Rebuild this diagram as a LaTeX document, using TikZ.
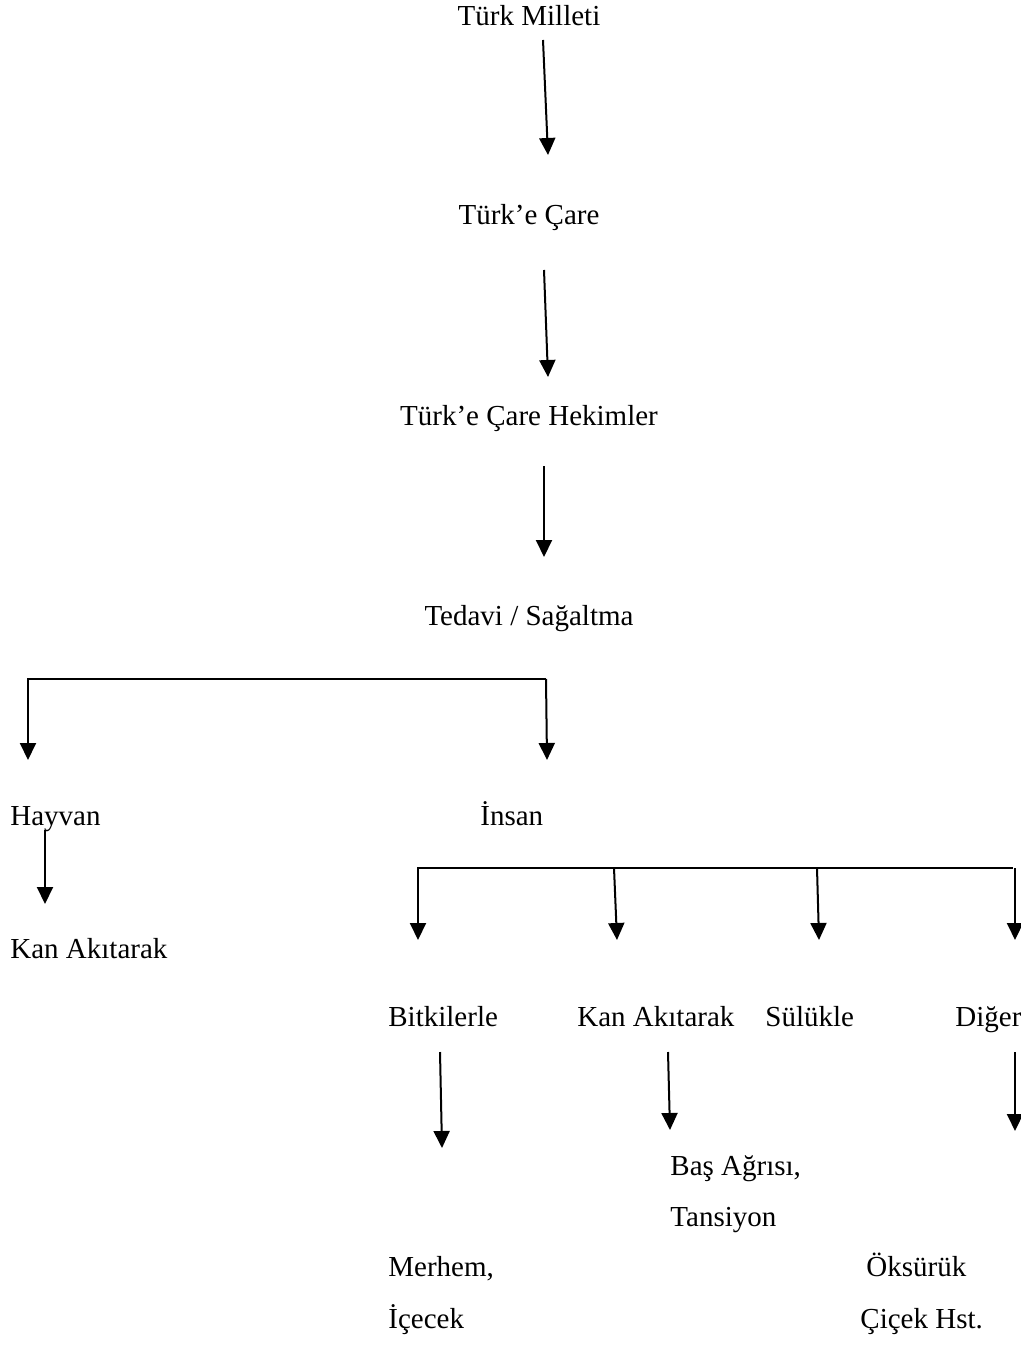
\documentclass[tikz,border=0pt]{standalone}
\usepackage{fontspec}
\setmainfont{Liberation Serif}
\usepackage{tikz}
\usetikzlibrary{positioning,arrows.meta}

\begin{document}
\begin{tikzpicture}[x=0.5pt, y=-0.5pt, font=\fontsize{14.5}{17}\selectfont]
    \tikzstyle{ctr}=[inner sep=0pt, anchor=base]
    \tikzstyle{lbl}=[inner sep=0pt, anchor=base west]
    \tikzstyle{line}=[draw, line width=1pt]
    \tikzstyle{arrow}=[line, -{Triangle[width=8pt, length=8.5pt]}]

    \useasboundingbox (0,0) rectangle (1021,1353);

    \node[ctr] (tm)  at (529,26)  {Türk Milleti};
    \node[ctr] (tc)  at (529,225) {Türk’e Çare};
    \node[ctr] (tch) at (529,425) {Türk’e Çare Hekimler};
    \node[ctr] (ted) at (529,625) {Tedavi / Sağaltma};

    \node[lbl] (hay)  at (10,825)  {Hayvan};
    \node[lbl] (hkan) at (10,958)  {Kan Akıtarak};
    \node[lbl] (ins)  at (480,825) {İnsan};

    \node[lbl] (bit) at (388,1026) {Bitkilerle};
    \node[lbl] (kan) at (577,1026) {Kan Akıtarak};
    \node[lbl] (sul) at (765,1026) {Sülükle};
    \node[lbl] (dig) at (955,1026) {Diğer};

    \node[lbl] (bas) at (670,1175) {Baş Ağrısı,};
    \node[lbl] (tan) at (670,1226) {Tansiyon};
    \node[lbl] (mer) at (388,1276) {Merhem,};
    \node[lbl] (ice) at (388,1328) {İçecek};
    \node[lbl] (oks) at (866,1276) {Öksürük};
    \node[lbl] (cic) at (860,1328) {Çiçek Hst.};

    % arrow ends
    \coordinate (tm-a) at (543,40);   \coordinate (tc-a)  at (548,155);
    \coordinate (tc-b) at (544,270);  \coordinate (tch-a) at (548,377);
    \coordinate (tch-b) at (544,466); \coordinate (ted-a) at (544,557);

    \coordinate (ted-r) at (546,679); \coordinate (ted-l) at (28,679);
    \coordinate (hay-a) at (28,760);  \coordinate (ins-a) at (547,760);
    \coordinate (hay-b) at (45,830);  \coordinate (hkan-a) at (45,904);

    \coordinate (ins-l) at (418,868); \coordinate (ins-r) at (1013,868);
    \coordinate (bit-a) at (418,940);
    \coordinate (kan-t) at (614,868); \coordinate (kan-a) at (617,940);
    \coordinate (sul-t) at (817,868); \coordinate (sul-a) at (819,940);
    \coordinate (dig-t) at (1015,868); \coordinate (dig-a) at (1015,940);

    \coordinate (bit-b) at (440,1052); \coordinate (mer-a) at (442,1148);
    \coordinate (kan-b) at (668,1052); \coordinate (bas-a) at (670,1130);
    \coordinate (dig-b) at (1015,1052); \coordinate (oks-a) at (1015,1131);

    \draw[arrow] (tm-a) -- (tc-a);
    \draw[arrow] (tc-b) -- (tch-a);
    \draw[arrow] (tch-b) -- (ted-a);

    \draw[arrow] (ted-r) -- (ted-l) -- (hay-a);
    \draw[arrow] (ted-r) -- (ins-a);
    \draw[arrow] (hay-b) -- (hkan-a);

    \draw[arrow] (ins-r) -- (ins-l) -- (bit-a);
    \draw[arrow] (kan-t) -- (kan-a);
    \draw[arrow] (sul-t) -- (sul-a);
    \draw[arrow] (dig-t) -- (dig-a);

    \draw[arrow] (bit-b) -- (mer-a);
    \draw[arrow] (kan-b) -- (bas-a);
    \draw[arrow] (dig-b) -- (oks-a);
\end{tikzpicture}
\end{document}
